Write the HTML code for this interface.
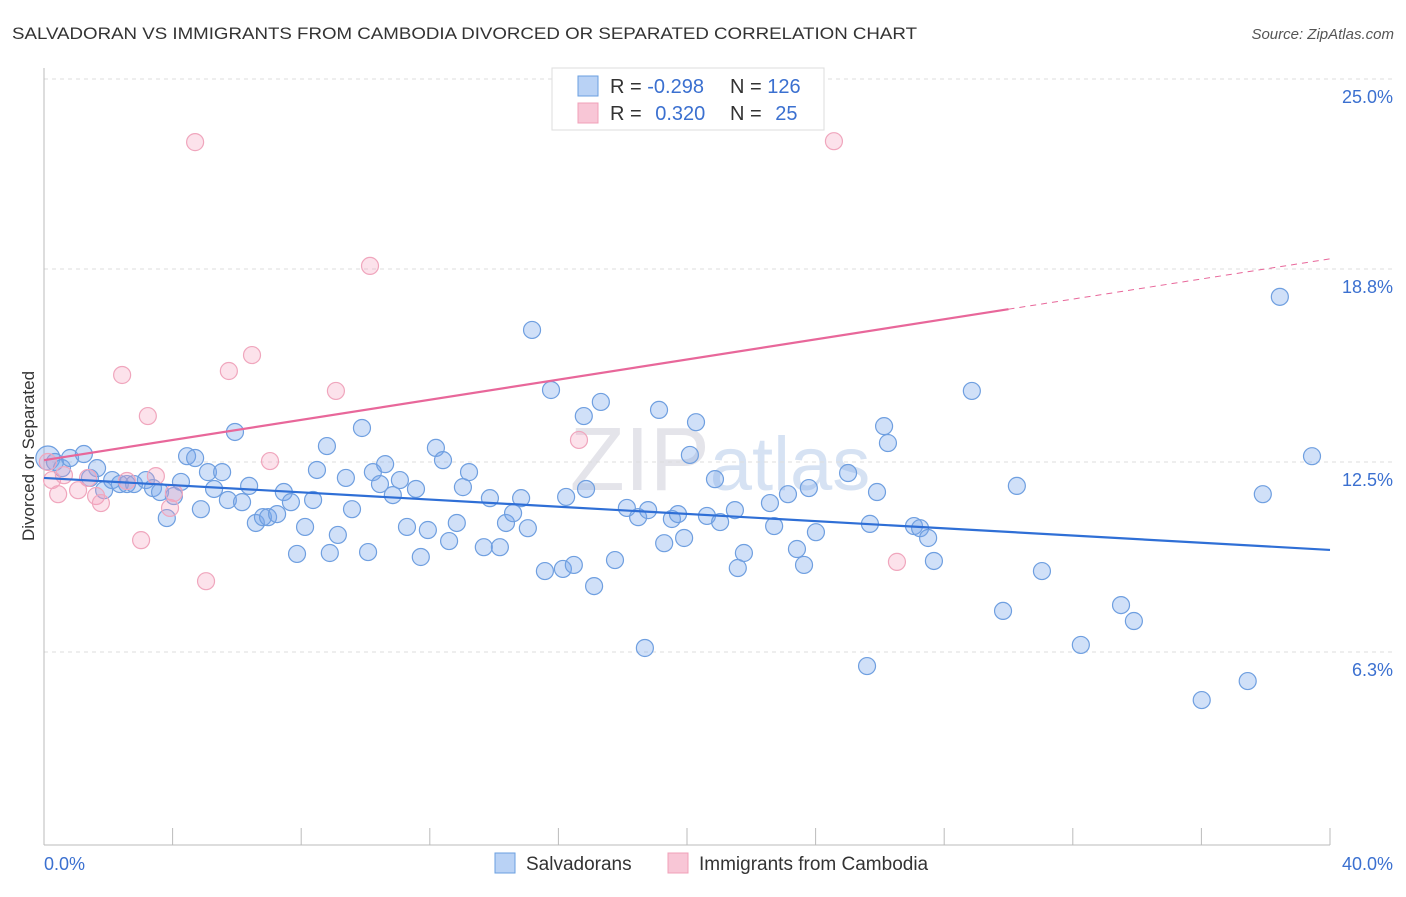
<!DOCTYPE html>
<html><head><meta charset="utf-8"><style>
body{margin:0;background:#fff;font-family:"Liberation Sans",sans-serif;}
svg text{font-family:"Liberation Sans",sans-serif;}
</style></head><body>
<svg id="chart" width="1406" height="892" viewBox="0 0 1406 892" xmlns="http://www.w3.org/2000/svg">
<text x="12" y="39" font-size="17" fill="#333" textLength="905" lengthAdjust="spacingAndGlyphs">SALVADORAN VS IMMIGRANTS FROM CAMBODIA DIVORCED OR SEPARATED CORRELATION CHART</text>
<text x="1394" y="39" font-size="15" fill="#555" text-anchor="end" font-style="italic">Source: ZipAtlas.com</text>
<text x="720" y="490" font-size="90" fill="#e4e4ea" text-anchor="middle" font-family="Liberation Serif">ZIP<tspan fill="#d6e2f3" font-family="Liberation Sans" font-size="76">atlas</tspan></text>
<g id="grid"></g><g id="axes"></g><g id="pts"></g><g id="lines"></g>
<text transform="translate(34,456) rotate(-90)" font-size="17" fill="#333" text-anchor="middle">Divorced or Separated</text>
<g>
<rect x="552" y="68" width="272" height="62" fill="#fff" stroke="#ddd"/>
<rect x="578" y="76" width="20" height="20" fill="#b9d2f5" stroke="#6a9fe0"/>
<rect x="578" y="103" width="20" height="20" fill="#f8c6d6" stroke="#f0a0b8"/>
<text x="610" y="93" font-size="20" fill="#333">R = <tspan fill="#3b70d0">-0.298</tspan><tspan x="730">N = </tspan><tspan fill="#3b70d0">126</tspan></text>
<text x="610" y="120" font-size="20" fill="#333">R = <tspan fill="#3b70d0" dx="8">0.320</tspan><tspan x="730">N = </tspan><tspan fill="#3b70d0" dx="8">25</tspan></text>
</g>
<g>
<rect x="495" y="853" width="20" height="20" fill="#b9d2f5" stroke="#6a9fe0"/>
<text x="526" y="870" font-size="19" fill="#333">Salvadorans</text>
<rect x="668" y="853" width="20" height="20" fill="#f8c6d6" stroke="#f0a0b8"/>
<text x="699" y="870" font-size="19" fill="#333">Immigrants from Cambodia</text>
</g>
</svg>
<script>
const yTicks=[25.0,18.8,12.5,6.3];
const yTickLabels=["25.0%","18.8%","12.5%","6.3%"];
const xLabels=["0.0%","40.0%"];
const blueX=[0.12,0.34,0.56,0.81,1.24,1.65,1.43,1.87,2.12,2.36,2.58,2.80,3.17,3.39,3.61,3.82,4.04,4.26,4.45,4.70,4.88,5.10,5.29,5.54,5.72,5.94,6.16,6.38,6.59,6.81,6.97,7.25,7.46,7.68,7.87,8.12,8.37,8.49,8.80,8.89,9.14,9.39,9.58,9.89,10.08,10.23,10.45,10.61,10.85,11.07,11.29,11.57,11.72,11.94,12.19,12.41,12.60,12.84,13.03,13.22,13.68,13.87,14.18,14.37,14.59,14.84,15.05,15.18,15.58,15.77,16.14,16.24,16.48,16.79,16.86,17.11,17.32,17.76,18.13,18.48,18.69,18.79,19.13,19.29,19.53,19.72,19.91,20.09,20.28,20.62,20.87,21.03,21.49,21.58,21.77,22.58,22.71,23.14,23.42,23.64,23.79,24.01,25.01,25.60,25.69,25.91,26.13,26.25,27.06,27.25,27.50,27.68,28.86,29.83,30.26,31.04,32.25,33.50,33.90,36.01,37.44,37.91,38.44,39.44];
const blueY=[12.63,12.50,12.30,12.63,12.76,12.30,11.98,11.58,11.91,11.78,11.78,11.78,11.91,11.65,11.52,10.67,11.39,11.85,12.69,12.63,10.96,12.17,11.62,12.17,11.26,13.48,11.19,11.72,10.51,10.70,10.70,10.80,11.52,11.19,9.50,10.38,11.26,12.24,13.02,9.53,10.12,11.98,10.96,13.61,9.56,12.17,11.78,12.43,11.42,11.91,10.38,11.62,9.40,10.28,12.96,12.56,9.92,10.51,11.68,12.17,9.72,11.32,9.72,10.51,10.83,11.32,10.34,16.81,8.94,14.85,9.01,11.36,9.14,14.00,11.62,8.45,14.46,9.30,11.00,10.70,6.43,10.93,14.20,9.85,10.64,10.80,10.02,12.73,13.80,10.74,11.94,10.54,10.93,9.04,9.53,11.16,10.41,11.45,9.66,9.14,11.65,10.21,12.14,5.84,10.48,11.52,13.67,13.12,10.41,10.34,10.02,9.27,14.82,7.64,11.72,8.94,6.53,7.83,7.31,4.73,5.35,11.45,17.89,12.69];
const pinkX=[0.12,0.25,0.44,0.62,1.06,1.37,1.62,1.77,2.43,2.58,3.02,3.23,3.48,3.92,4.04,4.70,5.04,5.75,6.47,7.03,9.08,10.14,16.64,24.57,26.53];
const pinkY=[12.50,11.91,11.45,12.07,11.58,11.98,11.39,11.16,15.34,11.88,9.95,14.00,12.04,11.00,11.49,22.94,8.61,15.47,15.99,12.53,14.82,18.90,13.22,22.97,9.24];
const blueTrend=[11.98,9.63];
const pinkTrend=[12.56,19.13]; const pinkSolidEnd=30.0;
const NS="http://www.w3.org/2000/svg";
const X=v=>44+v/40*1286, Y=v=>79+(25-v)*30.64;
function mk(t,a,p){const e=document.createElementNS(NS,t);for(const k in a)e.setAttribute(k,a[k]);p.appendChild(e);return e;}
const grid=document.getElementById('grid'),axes=document.getElementById('axes'),pts=document.getElementById('pts'),lines=document.getElementById('lines');
yTicks.forEach((t,i)=>{
const l=mk('line',{x1:44,x2:1392,y1:Y(t),y2:Y(t),stroke:'#ddd','stroke-dasharray':'4,4'},grid);


const tx=mk('text',{x:1393,y:Y(t)+24,'font-size':18,fill:'#3b70d0','text-anchor':'end'},axes);tx.textContent=yTickLabels[i];


});
mk('line',{x1:44,x2:44,y1:68,y2:845,stroke:'#bbb'},axes);
mk('line',{x1:44,x2:1330,y1:845,y2:845,stroke:'#bbb'},axes);
for(let i=0;i<=10;i++){const t=mk('line',{x1:X(i*4),x2:X(i*4),y1:828,y2:845,stroke:'#bbb'},axes);

}
const xl0=mk('text',{x:44,y:870,'font-size':18,fill:'#3b70d0'},axes);xl0.textContent=xLabels[0];


const xl1=mk('text',{x:1393,y:870,'font-size':18,fill:'#3b70d0','text-anchor':'end'},axes);xl1.textContent=xLabels[1];


blueX.forEach((x,i)=>{const c=mk('circle',{cx:X(x),cy:Y(blueY[i]),r:i===0?12:8.5,fill:'rgba(120,165,235,0.35)',stroke:'#6f9fe0','stroke-width':1.2},pts);

});
pinkX.forEach((x,i)=>{const c=mk('circle',{cx:X(x),cy:Y(pinkY[i]),r:8.5,fill:'rgba(245,160,190,0.3)',stroke:'#f0a6bd','stroke-width':1.2},pts);

});
const bl=mk('line',{x1:X(0),y1:Y(blueTrend[0]),x2:X(40),y2:Y(blueTrend[1]),stroke:'#2f6fd6','stroke-width':2.2},lines);


const pm=pinkTrend[0]+(pinkTrend[1]-pinkTrend[0])*pinkSolidEnd/40;
const pl=mk('line',{x1:X(0),y1:Y(pinkTrend[0]),x2:X(pinkSolidEnd),y2:Y(pm),stroke:'#e8679a','stroke-width':2.2},lines);


const pd=mk('line',{x1:X(pinkSolidEnd),y1:Y(pm),x2:X(40),y2:Y(pinkTrend[1]),stroke:'#e8679a','stroke-width':1,'stroke-dasharray':'6,5'},lines);


</script>
</body></html>
